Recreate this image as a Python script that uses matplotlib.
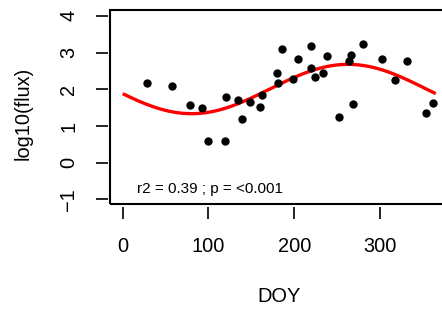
import numpy as np
import matplotlib
matplotlib.use("Agg")
import matplotlib.pyplot as plt
from matplotlib.patches import Rectangle

# ---- data ----
doy = [28, 57, 79, 93, 99, 119, 121, 135, 139, 149, 160, 163, 180, 181, 186,
       199, 204, 219, 219, 224, 234, 238, 252, 264, 266, 268, 280, 302, 317,
       332, 354, 362]
log_flux = [2.18, 2.09, 1.57, 1.50, 0.58, 0.58, 1.80, 1.71, 1.18, 1.65, 1.51,
            1.85, 2.43, 2.18, 3.10, 2.28, 2.83, 3.18, 2.57, 2.34, 2.45, 2.90,
            1.25, 2.78, 2.93, 1.60, 3.23, 2.83, 2.25, 2.78, 1.35, 1.62]
x_ticks = [0, 100, 200, 300]
y_ticks = [-1, 0, 1, 2, 3, 4]
annotation = "r2 = 0.39 ; p = <0.001"
period = 365.0

# ---- harmonic regression fit (sin/cos of day of year) ----
x = np.asarray(doy, float)
y = np.asarray(log_flux, float)
X = np.column_stack([np.ones_like(x), np.sin(2 * np.pi * x / period),
                     np.cos(2 * np.pi * x / period)])
coef, *_ = np.linalg.lstsq(X, y, rcond=None)
xs = np.linspace(0, period, 400)
Xs = np.column_stack([np.ones_like(xs), np.sin(2 * np.pi * xs / period),
                      np.cos(2 * np.pi * xs / period)])
ys = Xs @ coef

plt.rcParams['font.family'] = ['Liberation Sans', 'DejaVu Sans']

W, H = 442, 314
fig = plt.figure(figsize=(W / 100, H / 100), dpi=100)
ax = fig.add_axes([110 / W, 1 - 204.3 / H, 338 / W, 194.6 / H])
ax.set_xlim(-14.8, 379.3)
ax.set_ylim(-1.133, 4.167)

ax.plot(xs, ys, color='#ff0000', lw=2.4, zorder=2, solid_capstyle='butt')
ax.scatter(doy, log_flux, s=36, color='black', zorder=3, linewidths=0)

ax.text(102, -0.72, annotation, ha='center', va='center', fontsize=11)

# box
for s in ax.spines.values():
    s.set_visible(False)
ax.add_patch(Rectangle((0, 0), 1, 1, transform=ax.transAxes, fill=False,
                       lw=1.5, edgecolor='black', clip_on=False, zorder=5))
ax.spines['bottom'].set_position(('outward', 2))
ax.spines['left'].set_position(('outward', 1.5))

ax.set_xticks(x_ticks)
ax.set_yticks(y_ticks)
ax.set_yticklabels([str(v).replace('-', '\u2212') for v in y_ticks],
                   rotation=90, va='center')
ax.tick_params(axis='both', direction='out', length=8.4, width=1.2,
               labelsize=14.4, pad=13, top=False, right=False)

fig.text(279 / W, 1 - 296.7 / H, "DOY", ha='center', va='center', fontsize=14.4)
fig.text(23 / W, 1 - 113 / H, "log10(flux)", ha='center', va='center',
         rotation=90, fontsize=14.4)

fig.savefig("out.png", dpi=100)
